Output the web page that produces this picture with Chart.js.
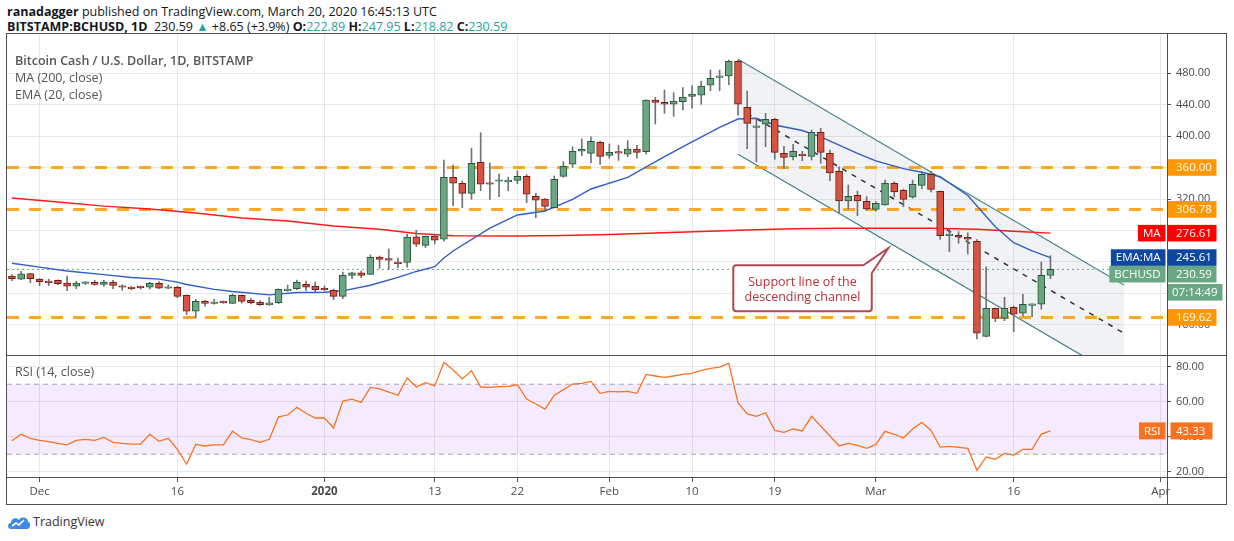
<!DOCTYPE html>
<html>
<head>
<meta charset="utf-8">
<title>BCHUSD 1D</title>
<script src="https://cdn.jsdelivr.net/npm/chart.js@4.4.1/dist/chart.umd.min.js"></script>
<style>
    body { margin: 0; width: 1234px; height: 541px; background: #fff; position: relative; overflow: hidden; font-family: "Open Sans", sans-serif; color: #131722; }
    canvas { position: absolute; left: 0; }
    #main { top: 33px; }
    #rsi { top: 355px; }
    .frame { position: absolute; background: #4f4f4f; }
    .txt { position: absolute; white-space: nowrap; }
    .up { color: #26a69a; }
    b { font-weight: 700; }
</style>
</head>
<body>
<div class="txt" style="left:7px;top:3px;font-size:12.5px;line-height:18px;"><b>ranadagger</b> published on TradingView.com, March 20, 2020 16:45:13 UTC</div>
<div class="txt" style="left:7px;top:18px;font-size:12.5px;line-height:18px;"><b>BITSTAMP:BCHUSD, 1D</b>&nbsp; 230.59 <span class="up">&#9650;</span> +8.65 (+3.9%) <b>O:</b><span class="up">222.89</span> <b>H:</b><span class="up">247.95</span> <b>L:</b><span class="up">218.82</span> <b>C:</b><span class="up">230.59</span></div>

<canvas id="main" width="1234" height="322"></canvas>
<canvas id="rsi" width="1234" height="150"></canvas>

<div class="txt" style="left:15px;top:52px;font-size:12.5px;line-height:18px;color:#555;font-weight:600;">Bitcoin Cash / U.S. Dollar, 1D, BITSTAMP</div>
<div class="txt" style="left:15px;top:69px;font-size:12.5px;line-height:18px;color:#555;">MA (200, close)</div>
<div class="txt" style="left:15px;top:86px;font-size:12.5px;line-height:18px;color:#555;">EMA (20, close)</div>
<div class="txt" style="left:15px;top:363px;font-size:12.5px;line-height:18px;color:#555;">RSI (14, close)</div>

<!-- frame -->
<div class="frame" style="left:6px;top:33px;width:1221px;height:1px;"></div>
<div class="frame" style="left:6px;top:355px;width:1221px;height:1px;"></div>
<div class="frame" style="left:6px;top:477px;width:1221px;height:1px;"></div>
<div class="frame" style="left:6px;top:504px;width:1221px;height:1px;"></div>
<div class="frame" style="left:6px;top:33px;width:1px;height:472px;"></div>
<div class="frame" style="left:1167px;top:33px;width:1px;height:472px;"></div>
<div class="frame" style="left:1226px;top:33px;width:1px;height:472px;"></div>

<svg style="position:absolute;left:7px;top:514px;" width="24" height="16" viewBox="0 0 24 16">
    <path d="M4 15 C0 15 0 9 4 9 C4 4 10 3 12 6 C14 2 21 3 21 8 C24 8 24 15 20 15 Z" fill="#3d8ae6"/>
    <path d="M5 12 L9 9 L12 11 L17 6" stroke="#fff" stroke-width="1.6" fill="none"/>
</svg>
<div class="txt" style="left:33px;top:513px;font-size:12.5px;line-height:18px;color:#333;">TradingView</div>

<script>
// day index 0 = Nov 28 2019, 113 = Mar 20 2020
const tickDays = [3, 18, 34, 46, 55, 65, 74, 83, 94, 109, 125];
const tickLabels = ['Dec', '16', '2020', '13', '22', 'Feb', '10', '19', 'Mar', '16', 'Apr'];
const priceTicks = [160, 200, 240, 280, 320, 360, 400, 440, 480];
const rsiTicks = [20, 40, 60, 80];

const opens = [222.2, 218.3, 225.4, 218.3, 215.9, 216.8, 213.3, 209.2, 212.8, 214.2,
    211.6, 214.6, 209.5, 208.3, 208.3, 207.9, 213.0, 206.7, 207.9, 197.7,
    177.4, 190.0, 187.3, 189.2, 187.5, 197.7, 191.3, 188.8, 185.8, 188.4,
    203.6, 206.0, 211.6, 209.2, 205.8, 204.1, 196.4, 223.1, 226.1, 224.3,
    246.3, 244.2, 240.0, 239.6, 272.1, 261.2, 273.0, 268.9, 347.6, 340.0,
    327.2, 366.6, 340.0, 342.5, 342.0, 343.7, 348.8, 323.4, 320.0, 309.0,
    348.8, 364.1, 380.6, 378.0, 392.0, 375.5, 378.8, 376.8, 383.5, 380.0,
    445.7, 442.8, 440.3, 443.6, 450.4, 451.7, 464.4, 474.5, 476.2, 494.9,
    436.4, 411.0, 414.9, 421.2, 378.0, 373.3, 377.1, 374.2, 404.7, 378.0,
    355.2, 317.5, 324.7, 317.1, 306.9, 312.4, 339.9, 331.0, 322.2, 337.4,
    351.4, 329.8, 273.4, 273.9, 271.4, 266.3, 145.6, 181.2, 168.5, 182.5,
    174.9, 185.0, 186.3, 222.89];
const highs = [223.9, 228.2, 225.8, 219.0, 218.3, 217.2, 222.2, 215.5, 215.0, 216.8,
    216.8, 216.8, 211.2, 209.0, 209.5, 214.2, 215.0, 211.0, 209.0, 198.0,
    192.6, 191.7, 192.6, 190.5, 199.4, 198.2, 193.4, 190.9, 195.2, 206.0,
    210.8, 217.1, 215.9, 214.6, 209.5, 205.7, 227.3, 227.3, 228.6, 248.9,
    247.6, 256.5, 245.0, 275.2, 280.2, 273.0, 275.2, 369.5, 363.2, 342.9,
    384.4, 404.2, 365.7, 351.7, 347.6, 356.0, 350.9, 327.2, 320.5, 349.2,
    367.4, 386.4, 396.2, 399.1, 393.7, 389.8, 388.2, 394.0, 388.2, 446.0,
    449.1, 458.4, 455.0, 461.4, 463.9, 469.8, 483.8, 483.8, 496.5, 496.5,
    457.1, 422.5, 428.8, 422.5, 386.9, 389.5, 380.6, 407.6, 409.8, 382.2,
    361.0, 337.8, 330.0, 322.9, 316.6, 344.1, 342.0, 332.7, 344.1, 355.2,
    355.0, 330.0, 281.9, 278.5, 277.2, 268.5, 234.0, 181.5, 195.2, 184.1,
    199.0, 187.0, 240.0, 247.95];
const lows = [216.3, 217.5, 213.7, 210.0, 210.0, 211.0, 203.6, 206.0, 211.5, 210.4,
    209.0, 206.0, 204.0, 204.8, 205.6, 205.7, 206.0, 206.0, 194.7, 173.0,
    169.0, 184.0, 186.5, 187.5, 187.0, 187.9, 186.7, 185.0, 185.0, 187.0,
    202.8, 204.8, 203.6, 201.9, 203.6, 192.1, 193.4, 218.8, 220.1, 224.0,
    232.0, 230.7, 232.8, 233.3, 259.4, 258.2, 262.9, 266.5, 311.5, 309.0,
    319.6, 330.5, 319.6, 322.9, 330.5, 339.4, 315.3, 296.3, 304.0, 308.5,
    347.6, 360.2, 375.0, 366.1, 364.0, 371.7, 369.0, 373.7, 371.7, 376.8,
    415.2, 428.8, 425.0, 433.0, 435.2, 440.3, 457.5, 457.5, 465.2, 426.3,
    383.9, 367.4, 386.4, 370.4, 358.9, 369.5, 368.6, 369.5, 365.3, 343.3,
    301.8, 307.3, 298.8, 306.0, 304.8, 312.0, 322.9, 310.2, 320.9, 333.0,
    328.9, 268.8, 253.1, 263.8, 250.2, 142.2, 145.0, 164.2, 165.5, 151.5,
    171.4, 170.6, 180.0, 218.82];
const closes = [218.9, 225.0, 218.7, 215.0, 213.7, 212.4, 209.2, 213.3, 214.5, 211.6,
    214.6, 210.4, 207.9, 206.0, 207.4, 213.0, 206.7, 208.3, 196.4, 177.4,
    190.0, 187.5, 189.2, 188.4, 197.7, 190.0, 188.4, 185.8, 188.0, 205.4,
    205.4, 214.2, 207.9, 204.8, 204.8, 196.4, 223.1, 226.1, 223.1, 246.0,
    243.4, 242.2, 237.8, 271.7, 262.5, 272.6, 267.6, 347.6, 340.0, 327.2,
    365.3, 338.7, 338.7, 344.1, 343.5, 348.8, 326.0, 318.4, 310.7, 345.1,
    361.5, 380.6, 383.1, 393.3, 374.2, 379.3, 378.3, 383.3, 379.3, 445.7,
    442.8, 440.3, 444.4, 449.5, 453.3, 463.5, 473.3, 476.2, 494.9, 440.3,
    416.1, 412.3, 421.2, 379.3, 372.9, 380.6, 375.0, 404.7, 379.3, 353.0,
    317.5, 323.4, 317.5, 307.3, 314.6, 339.9, 328.9, 319.6, 338.7, 351.4,
    332.3, 273.4, 275.2, 271.4, 268.9, 149.5, 181.2, 168.5, 181.2, 173.6,
    186.3, 186.3, 223.1, 230.59];

const maDays = [0, 5, 10, 15, 20, 25, 30, 35, 40, 44, 48, 55, 60, 65, 70, 75, 80, 85, 90, 95, 100, 105, 110, 113];
const maValues = [321.3, 316.2, 311.0, 307.3, 302.2, 295.9, 292.1, 285.7, 281.5, 276.2, 273.4, 273.0,
    273.6, 274.9, 276.8, 278.7, 280.6, 282.2, 282.8, 282.8, 282.8, 281.5, 278.5, 276.61];

const emaDays = [0, 3, 6, 10, 13, 16, 18, 19, 22, 24, 28, 31, 34, 36, 39, 42, 44, 46, 47, 48, 52, 55,
    58, 61, 63, 67, 71, 74, 77, 79, 81, 83, 86, 88, 92, 94, 97, 99, 101, 104, 107, 109, 111, 113];
const emaValues = [238.4, 233.5, 228.6, 224.0, 220.4, 218.2, 214.5, 211.5, 205.2, 202.5, 198.3, 201.2,
    201.5, 203.4, 210.5, 220.5, 228.0, 234.0, 245.0, 254.0, 283.0, 299.7, 304.8, 319.5, 332.7, 347.5,
    373.7, 392.5, 411.0, 421.6, 422.5, 414.0, 407.0, 399.0, 378.0, 368.5, 358.5, 354.0, 348.3, 324.5,
    284.8, 264.5, 254.0, 245.61];

const rsi = [37.7, 41.4, 39.1, 37.9, 37.2, 36.2, 35.3, 37.9, 38.5, 37.9,
    39.6, 36.8, 36.2, 35.8, 35.8, 41.4, 37.4, 39.1, 32.8, 24.4,
    35.6, 34.7, 35.3, 35.3, 43.1, 39.3, 38.3, 36.8, 38.5, 51.3,
    52.4, 56.8, 53.4, 50.7, 50.7, 45.0, 60.4, 61.5, 59.6, 68.2,
    67.3, 65.5, 63.7, 73.7, 68.4, 70.9, 69.0, 82.5, 78.1, 73.0,
    77.7, 68.4, 68.2, 68.6, 68.8, 69.7, 61.5, 58.7, 55.8, 63.6,
    66.9, 70.1, 70.5, 71.6, 64.8, 65.9, 65.6, 65.9, 64.8, 75.6,
    74.7, 73.9, 74.7, 75.6, 76.2, 77.9, 79.1, 79.8, 81.9, 59.4,
    53.0, 51.6, 53.7, 43.6, 42.5, 44.4, 43.3, 51.6, 46.1, 40.4,
    34.7, 36.2, 35.1, 33.4, 35.6, 43.1, 41.4, 39.3, 44.4, 48.2,
    43.6, 34.1, 34.5, 33.9, 33.4, 20.8, 28.4, 27.1, 30.5, 29.5,
    32.8, 32.8, 41.5, 43.33];
const rsiBand = [30, 70];

// horizontal support / resistance levels
const levels = [360, 306.78, 169.62];
// descending channel drawn on the chart
const channelDays = [79, 121];
const channelUpper = [497.4, 210.8];
const channelLower = [376.8, 90.2];
const midDays = [80, 121];
const midValues = [428.8, 149.6];

const lastPrice = 230.59;
const countdown = '07:14:49';

const xMin = -0.54, xMax = 125.68;
const green = '#6ba583', greenEdge = '#235a3a';
const red = '#d75442', redEdge = '#6e1d14';
const orange = '#ff9800';
const rsiColor = '#f7731f';
const gridColor = '#e8e8ea';

Chart.defaults.font.family = '"Open Sans", sans-serif';
Chart.defaults.font.size = 11;
Chart.defaults.color = '#4a4a4a';
Chart.defaults.animation = false;
Chart.defaults.events = [];
Chart.defaults.plugins.legend.display = false;
Chart.defaults.plugins.tooltip.enabled = false;

const pts = (xs, ys) => xs.map((x, i) => ({ x: x, y: ys[i] }));
const isUp = i => closes[i] >= opens[i];

// keep the axis from reserving room for half a label at each end
function fitY(s) {
    s.width = 67;
    s.paddingTop = 0;
    s.paddingBottom = 0;
}
function fitX(h) {
    return s => {
        s.height = h;
        s.paddingLeft = 0;
        s.paddingRight = 0;
    };
}

// coloured tags on the price axis
function drawTag(ctx, left, top, w, h, bg, text, textX, align) {
    ctx.fillStyle = bg;
    ctx.fillRect(left, top, w, h);
    ctx.fillStyle = '#fff';
    ctx.textAlign = align;
    ctx.textBaseline = 'middle';
    ctx.fillText(text, textX, top + h / 2 + 0.5);
}

const priceTags = {
    id: 'priceTags',
    afterDraw(chart) {
        const ctx = chart.ctx;
        const y = chart.scales.y;
        const axisX = chart.chartArea.right;
        const h = 16.6;
        const tags = [
            { v: levels[0], bg: orange },
            { v: levels[1], bg: orange },
            { v: maValues[maValues.length - 1], bg: '#ff0000', name: 'MA' },
            { v: emaValues[emaValues.length - 1], bg: '#0d47a1', name: 'EMA:MA' },
            { v: lastPrice, bg: '#6aa784', name: 'BCHUSD', sub: countdown },
            { v: levels[2], bg: orange }
        ].map(t => Object.assign(t, { py: y.getPixelForValue(t.v) }))
         .sort((a, b) => a.py - b.py);

        ctx.save();
        ctx.font = '11.5px "Open Sans"';
        let bottom = -100;
        tags.forEach(t => {
            const top = Math.max(t.py - h / 2, bottom);
            drawTag(ctx, axisX + 0.5, top, 49, h, t.bg, t.v.toFixed(2), axisX + 9, 'left');
            if (t.name) {
                const w = ctx.measureText(t.name).width + 10;
                drawTag(ctx, axisX - 1.5 - w, top, w, h, t.bg, t.name, axisX - 1.5 - w / 2, 'center');
            }
            bottom = top + h;
            if (t.sub) {
                drawTag(ctx, axisX + 0.5, bottom + 1.5, 55, h, t.bg, t.sub, axisX + 5, 'left');
                bottom += h + 1.5;
            }
        });
        ctx.restore();
    }
};

// "Support line of the descending channel" callout
const callout = {
    id: 'callout',
    afterDatasetsDraw(chart) {
        const ctx = chart.ctx;
        const tx = chart.scales.x.getPixelForValue(95.35);
        const ty = chart.scales.y.getPixelForValue(257.4);
        const l = tx - 155, r = tx - 16.5, t = ty + 17, b = ty + 63, rad = 3;
        ctx.save();
        ctx.beginPath();
        ctx.moveTo(l + rad, t);
        ctx.lineTo(tx - 25, t);
        ctx.lineTo(tx, ty);
        ctx.lineTo(r, ty + 25);
        ctx.lineTo(r, b - rad);
        ctx.arcTo(r, b, r - rad, b, rad);
        ctx.lineTo(l + rad, b);
        ctx.arcTo(l, b, l, b - rad, rad);
        ctx.lineTo(l, t + rad);
        ctx.arcTo(l, t, l + rad, t, rad);
        ctx.closePath();
        ctx.fillStyle = 'rgba(255,255,255,0.9)';
        ctx.fill();
        ctx.strokeStyle = 'rgba(165,40,55,0.85)';
        ctx.lineWidth = 2;
        ctx.stroke();
        ctx.fillStyle = '#b5303c';
        ctx.font = '12.5px "Open Sans"';
        ctx.textAlign = 'center';
        ctx.textBaseline = 'middle';
        ctx.fillText('Support line of the', (l + r) / 2, t + 17);
        ctx.fillText('descending channel', (l + r) / 2, t + 32);
        ctx.restore();
    }
};

const levelSets = levels.map(v => ({
    type: 'line', data: pts([xMin, xMax], [v, v]), borderColor: 'rgba(255,152,0,0.85)',
    borderWidth: 3, borderDash: [12, 10], pointRadius: 0, order: 8
}));

new Chart(document.getElementById('main'), {
    type: 'bar',
    data: {
        datasets: [
            { type: 'line', data: pts(channelDays, channelUpper), borderColor: '#3f7f82', borderWidth: 1.2, pointRadius: 0, order: 11 },
            { type: 'line', data: pts(channelDays, channelLower), borderColor: '#3f7f82', borderWidth: 1.2, pointRadius: 0, order: 10,
              fill: '-1', backgroundColor: 'rgba(185,190,205,0.2)' },
            { type: 'line', data: pts(midDays, midValues), borderColor: '#333', borderWidth: 1.5, borderDash: [5, 6], pointRadius: 0, order: 9 },
            ...levelSets,
            { type: 'line', data: pts([xMin, xMax], [lastPrice, lastPrice]), borderColor: '#6aa784', borderWidth: 1, borderDash: [2, 3], pointRadius: 0, order: 7 },
            { type: 'line', data: pts(maDays, maValues), borderColor: '#ff1a1a', borderWidth: 1.4, pointRadius: 0, order: 6 },
            { type: 'line', data: pts(emaDays, emaValues), borderColor: '#2f5fc4', borderWidth: 1.4, pointRadius: 0, order: 5 },
            {
                data: highs.map((h, i) => ({ x: i, y: [lows[i], h] })),
                backgroundColor: '#737375', barThickness: 1, grouped: false, order: 1
            },
            {
                data: opens.map((o, i) => ({ x: i, y: [o, closes[i]] })),
                backgroundColor: c => isUp(c.dataIndex) ? green : red,
                borderColor: c => isUp(c.dataIndex) ? greenEdge : redEdge,
                borderWidth: 1, borderSkipped: false, barThickness: 7, minBarLength: 1.5,
                grouped: false, order: 0
            }
        ]
    },
    options: {
        responsive: false,
        layout: { padding: { left: 7, right: 0, top: 0, bottom: 0 } },
        scales: {
            x: {
                type: 'linear', min: xMin, max: xMax, offset: false,
                afterBuildTicks: s => { s.ticks = tickDays.map(v => ({ value: v })); },
                afterFit: fitX(0),
                ticks: { display: false },
                grid: { color: gridColor, drawTicks: false, offset: false },
                border: { display: false }
            },
            y: {
                position: 'right', min: 121.9, max: 530.8,
                afterBuildTicks: s => { s.ticks = priceTicks.map(v => ({ value: v })); },
                afterFit: fitY,
                ticks: { callback: v => v.toFixed(2), padding: 5, color: '#4a4a4a' },
                grid: { color: gridColor, tickLength: 4, tickColor: '#555' },
                border: { display: false }
            }
        }
    },
    plugins: [callout, priceTags]
});

const rsiTag = {
    id: 'rsiTag',
    afterDraw(chart) {
        const ctx = chart.ctx;
        const axisX = chart.chartArea.right;
        const v = rsi[rsi.length - 1];
        const py = chart.scales.y.getPixelForValue(v);
        const h = 17;
        ctx.save();
        ctx.font = '11.5px "Open Sans"';
        drawTag(ctx, axisX + 3.5, py - h / 2, 42, h, rsiColor, v.toFixed(2), axisX + 9, 'left');
        drawTag(ctx, axisX - 28, py - h / 2, 26.5, h, rsiColor, 'RSI', axisX - 14.75, 'center');
        ctx.restore();
    }
};

new Chart(document.getElementById('rsi'), {
    type: 'line',
    data: {
        datasets: [
            { data: rsi.map((v, i) => ({ x: i, y: v })), borderColor: rsiColor, borderWidth: 1.3, pointRadius: 0, order: 0 },
            { data: pts([xMin, xMax], [rsiBand[1], rsiBand[1]]), borderColor: '#aaa4b0', borderWidth: 1, borderDash: [5, 4], pointRadius: 0, order: 2 },
            { data: pts([xMin, xMax], [rsiBand[0], rsiBand[0]]), borderColor: '#aaa4b0', borderWidth: 1, borderDash: [5, 4], pointRadius: 0, order: 3,
              fill: '-1', backgroundColor: 'rgba(155,60,255,0.1)' }
        ]
    },
    options: {
        responsive: false,
        layout: { padding: { left: 7, right: 0, top: 0, bottom: 0 } },
        scales: {
            x: {
                type: 'linear', min: xMin, max: xMax,
                afterBuildTicks: s => { s.ticks = tickDays.map(v => ({ value: v })); },
                afterFit: fitX(27),
                ticks: {
                    callback: v => tickLabels[tickDays.indexOf(v)],
                    maxRotation: 0, autoSkip: false, padding: 3, color: '#4a4a4a',
                    font: c => ({ size: 11.5, weight: c.tick && c.tick.value === 34 ? 'bold' : 'normal' })
                },
                grid: { color: gridColor, tickLength: 4, tickColor: '#555' },
                border: { display: false }
            },
            y: {
                position: 'right', min: 16.4, max: 86.7,
                afterBuildTicks: s => { s.ticks = rsiTicks.map(v => ({ value: v })); },
                afterFit: fitY,
                ticks: { callback: v => v.toFixed(2), padding: 5, color: '#4a4a4a' },
                grid: { color: gridColor, tickLength: 4, tickColor: '#555' },
                border: { display: false }
            }
        }
    },
    plugins: [rsiTag]
});
</script>
</body>
</html>
